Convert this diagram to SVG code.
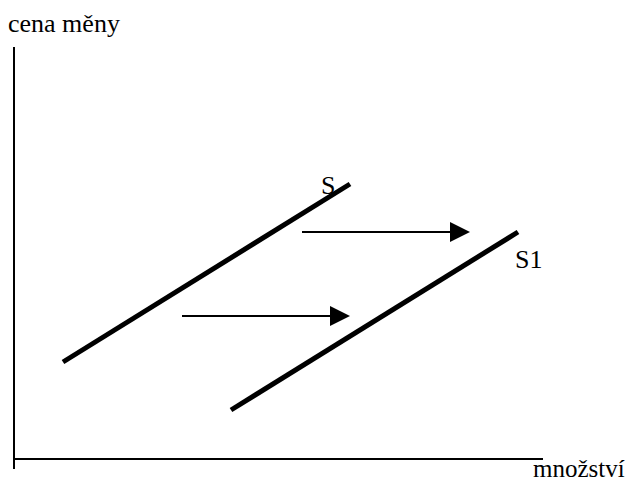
<svg xmlns="http://www.w3.org/2000/svg" width="635" height="483" viewBox="0 0 635 483">
<style>
.ax{stroke:#000;stroke-width:2;fill:none}
.curve{stroke:#000;stroke-width:5;fill:none}
.arr{stroke:#000;stroke-width:2;fill:none}
</style>
<rect width="635" height="483" fill="#fff"/>
<g id="axes">
<line class="ax" x1="14" y1="47" x2="14" y2="469"/>
<line class="ax" x1="13" y1="459" x2="543" y2="459"/>
<text x="8" y="32" font-family="Liberation Serif, serif" font-size="26" fill="#000">cena měny</text>
<text x="533" y="477" font-family="Liberation Serif, serif" font-size="25" fill="#000">množství</text>
</g>
<g id="S">
<line class="curve" x1="63" y1="362" x2="350" y2="184"/>
<text x="321" y="194" font-family="Liberation Serif, serif" font-size="26" fill="#000">S</text>
</g>
<g id="S1">
<line class="curve" x1="231" y1="410" x2="518" y2="232"/>
<text x="515" y="268" font-family="Liberation Serif, serif" font-size="26" fill="#000">S1</text>
</g>
<g id="connectors">
<line class="arr" x1="302" y1="232" x2="452" y2="232"/>
<polygon points="450,222 470,232 450,242" fill="#000"/>
<line class="arr" x1="182" y1="316" x2="332" y2="316"/>
<polygon points="330,306 350,316 330,326" fill="#000"/>
</g>
</svg>
